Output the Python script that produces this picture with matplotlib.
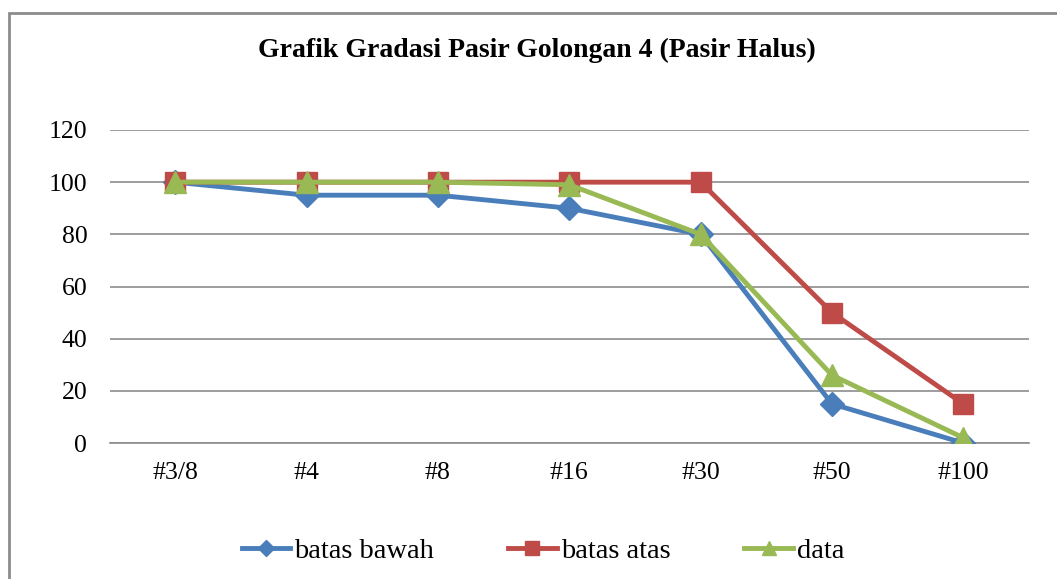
import matplotlib
matplotlib.use('Agg')
import matplotlib.pyplot as plt
from matplotlib.patches import Rectangle

sieves = ['#3/8', '#4', '#8', '#16', '#30', '#50', '#100']
batas_bawah = [100, 95, 95, 90, 80, 15, 0]
batas_atas = [100, 100, 100, 100, 100, 50, 15]
data = [100, 100, 100, 99, 80, 26, 2]

plt.rcParams['font.family'] = ['Liberation Serif', 'DejaVu Serif']

W, H = 1057, 579
fig = plt.figure(figsize=(W / 100, H / 100), dpi=100)

# outer chart border (Excel style)
fig.patches.append(Rectangle((9 / W, -0.1), 1.2, 1 - 13 / H + 0.1,
                             transform=fig.transFigure, fill=False,
                             edgecolor='#8c8c8c', linewidth=2))

ax = fig.add_axes([109.5 / W, 1 - 443 / H, (1029 - 109.5) / W, (443 - 130) / H])
x = range(len(sieves))
ax.plot(x, batas_bawah, color='#4A7EBB', lw=3.5, marker='D', ms=12, label='batas bawah', zorder=3)
ax.plot(x, batas_atas, color='#BE4B48', lw=3.5, marker='s', ms=15, label='batas atas', zorder=3)
ax.plot(x, data, color='#98B954', lw=3.5, marker='^', ms=16, label='data', zorder=4)

ax.set_xlim(-0.5, 6.5)
ax.set_ylim(0, 120)
ax.set_yticks(range(0, 121, 20))
ax.set_xticks(list(x))
ax.set_xticklabels(sieves)
ax.tick_params(length=0, labelsize=18.5, colors='black')
ax.tick_params(axis='y', pad=16)
ax.tick_params(axis='x', pad=14)
ax.grid(axis='y', color='#8c8c8c', lw=1.2)
ax.set_axisbelow(True)
for s in ['top', 'right', 'left']:
    ax.spines[s].set_visible(False)
ax.spines['bottom'].set_color('#8c8c8c')
ax.spines['bottom'].set_linewidth(1.2)

fig.text(537 / W, 1 - 50 / H, 'Grafik Gradasi Pasir Golongan 4 (Pasir Halus)',
         ha='center', va='center', fontsize=20, fontweight='bold')

fig.legend(loc='center', bbox_to_anchor=(543 / W, 1 - 551 / H), ncol=3,
           frameon=False, prop=dict(family='Liberation Serif', size=20.5),
           handlelength=1.7, handletextpad=0.15, columnspacing=2.6,
           markerscale=0.65)

fig.savefig('out.png', dpi=100)
